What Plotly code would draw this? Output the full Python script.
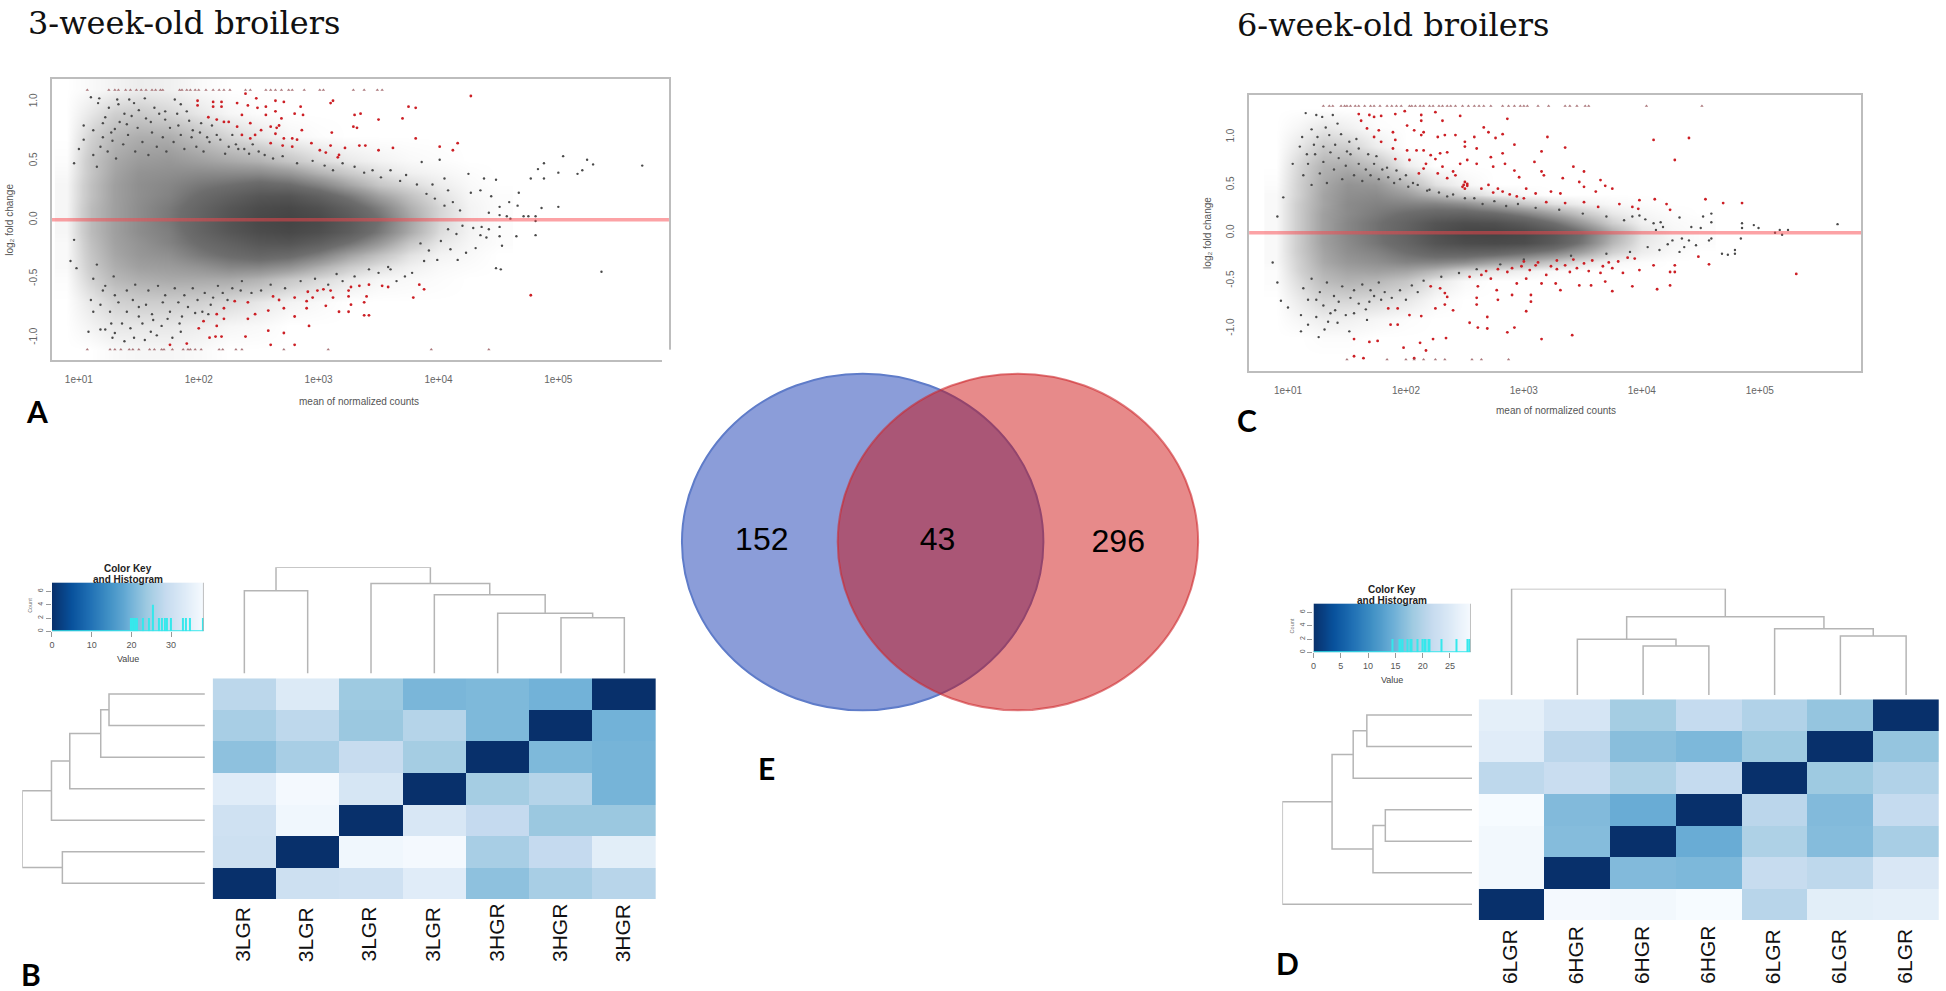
import plotly.graph_objects as go

W, H = 1946, 991

# ---------- MA plots: (log10 mean of normalized counts, log2 fold change)
density_x = [.9, 1.1, 1.3, 1.5, 1.75, 2, 2.25, 2.5, 2.75, 3, 3.25, 3.5, 3.75, 4, 4.25, 4.5]

a_density_y = [-1.1, -.9, -.7, -.5, -.4, -.3, -.2, -.1, 0, .1, .2, .3, .4, .5, .7, .9, 1.1]
a_density = [
    [0, 0, .02, .03, .03, .02, 0, 0, 0, 0, 0, 0, 0, 0, 0, 0],
    [0, .04, .08, .08, .08, .06, .03, .02, 0, 0, 0, 0, 0, 0, 0, 0],
    [0, .08, .15, .17, .17, .16, .12, .08, .04, .02, 0, 0, 0, 0, 0, 0],
    [.01, .15, .26, .3, .32, .32, .32, .28, .2, .13, .07, .03, .02, .01, 0, 0],
    [.02, .18, .3, .36, .38, .42, .48, .48, .42, .3, .18, .1, .05, .02, .01, 0],
    [.02, .2, .33, .4, .44, .54, .62, .68, .64, .52, .35, .22, .1, .04, .02, 0],
    [.02, .22, .35, .42, .5, .62, .72, .82, .84, .74, .58, .4, .2, .08, .03, .01],
    [.03, .24, .36, .45, .52, .68, .82, .92, .96, .9, .76, .55, .32, .12, .04, .01],
    [.03, .24, .36, .45, .55, .7, .85, .96, 1, .95, .8, .6, .35, .14, .04, .01],
    [.03, .24, .36, .45, .54, .68, .82, .92, .96, .88, .72, .52, .3, .14, .04, .01],
    [.03, .22, .36, .44, .5, .62, .72, .82, .84, .72, .55, .36, .22, .1, .03, .01],
    [.03, .22, .36, .44, .48, .55, .6, .66, .62, .5, .34, .2, .12, .06, .02, 0],
    [.02, .2, .34, .42, .44, .46, .46, .46, .4, .28, .18, .1, .05, .03, .01, 0],
    [.01, .2, .32, .38, .4, .36, .32, .28, .2, .12, .07, .04, .02, .01, 0, 0],
    [0, .15, .26, .3, .3, .22, .14, .08, .03, .01, 0, 0, 0, 0, 0, 0],
    [0, .08, .16, .18, .14, .08, .03, .01, 0, 0, 0, 0, 0, 0, 0, 0],
    [0, .02, .04, .06, .05, .02, 0, 0, 0, 0, 0, 0, 0, 0, 0, 0],
]

a_red = [(4.27, 1.05), (3.12, 1.01), (3.10, .99), (3.75, .96), (3.81, .95), (3.70, .86), (3.30, .89), (3.35, .90),
         (3.50, .85), (3.29, .79), (3.32, .78), (3.11, .74), (3.81, .69), (4.01, .62), (4.16, .65), (4.12, .59),
         (3.62, .61), (3.50, .59), (3.34, .63), (3.39, .63), (3.22, .61), (3.10, .63), (2.94, .65), (3.01, .59),
         (3.06, .57), (3.17, .55), (3.16, .53), (1.99, 1.01), (1.99, .97), (2.12, 1.0), (2.12, .96), (2.19, 1.0),
         (2.19, .96), (2.39, 1.07), (2.48, 1.03), (2.32, .99), (2.41, .97), (2.49, .95), (2.56, .96), (2.64, 1.01),
         (2.71, 1.0), (2.64, .92), (2.56, .89), (2.85, .96), (2.80, .9), (2.87, .89), (2.69, .86), (2.36, .89),
         (2.08, .87), (2.15, .85), (2.21, .83), (2.25, .83), (2.43, .82), (2.67, .8), (2.6, .79), (2.65, .78),
         (2.52, .76), (2.32, .79), (2.86, .76), (2.36, .72), (2.47, .72), (2.64, .73), (2.43, .69), (2.71, .69),
         (2.78, .69), (2.82, .68), (2.70, .63), (2.6, .65), (2.78, .62),
         (4.77, -.64), (3.79, -.66), (3.88, -.59), (3.84, -.55), (3.53, -.56), (3.58, -.57), (3.42, -.55),
         (3.34, -.56), (3.27, -.57), (3.25, -.6), (3.10, -.6), (3.04, -.59), (2.99, -.6), (2.91, -.61), (3.12, -.66),
         (3.25, -.65), (3.40, -.65), (3.38, -.7), (3.27, -.72), (2.95, -.66), (2.9, -.69), (2.8, -.66), (2.67, -.68),
         (2.62, -.65), (2.41, -.7), (2.3, -.69), (2.71, -.75), (2.9, -.75), (3.06, -.73), (3.17, -.78), (3.25, -.78),
         (3.38, -.81), (3.42, -.81), (2.58, -.77), (2.47, -.8), (2.41, -.84), (2.8, -.82), (2.21, -.75), (2.15, -.8),
         (2.21, -.84), (2.04, -.86), (2.0, -.92), (2.92, -.9), (2.15, -.9), (2.58, -.94), (2.71, -.96), (2.09, -1.0),
         (2.14, -.99), (2.19, -.99), (2.39, -.99), (1.76, -1.06), (1.9, -1.05), (2.6, -1.06), (2.8, -1.06)]

a_gray = [(5.70, .46), (5.36, -.44), (5.24, .51), (5.29, .47), (5.2, .42), (5.16, .39), (5.04, .54), (5.0, .4),
          (4.88, .48), (4.83, .43), (4.88, .35), (4.77, .35), (4.67, .23), (5.0, .11), (4.86, .1), (4.81, .03),
          (4.75, .03), (4.71, .03), (4.81, -.01), (4.81, -.13), (4.65, -.14), (4.6, .01), (4.57, .03), (4.51, .04),
          (4.42, .06), (4.66, .12), (4.59, .15), (4.51, .11), (4.44, .2), (4.48, .34), (4.38, .35), (4.35, .25),
          (4.27, .23), (4.25, .39), (4.51, -.06), (4.42, -.08), (4.36, -.06), (4.29, -.07), (4.35, -.13), (4.4, -.15),
          (4.51, -.14), (4.53, -.22), (4.48, -.41), (4.52, -.42), (4.31, -.24), (4.23, -.28), (4.16, -.34),
          (3.99, -.34), (3.88, -.35), (3.86, .49), (4.01, .51), (.93, -.35), (.96, -.17), (.98, -.41), (.96, .48),
          (1.0, .6), (1.04, .68), (1.04, .8), (1.1, 1.04), (1.16, .99), (1.17, 1.03), (1.22, .87), (1.12, .76),
          (1.25, .95), (1.32, 1.02), (1.33, .98), (1.42, 1.02), (1.46, .99), (1.38, .9), (1.5, .93), (1.55, 1.03),
          (1.63, .95), (1.72, .92), (1.8, 1.02), (1.85, .98), (1.9, .92), (1.72, .85), (1.83, .8), (1.6, .83),
          (1.4, .81), (1.3, .77), (1.2, .7), (1.18, .62), (1.28, .67), (2.02, .82), (1.95, .76), (2.07, .7),
          (2.15, .72), (2.25, .62), (2.33, .6), (2.42, .56), (2.55, .55), (3.2, .48), (3.3, .45), (3.45, .42),
          (3.6, .42), (3.73, .38), (3.82, .3), (3.95, .3), (4.05, .35),
          (1.08, -.95), (1.1, -.68), (1.12, -.78), (1.18, -.93), (1.22, -.93), (1.27, -.88), (1.3, -.96), (1.28, -1.0),
          (1.38, -1.03), (1.46, -1.0), (1.55, -1.02), (1.6, -.95), (1.65, -.98), (1.78, -1.0), (1.85, -.95),
          (1.4, -.78), (1.5, -.82), (1.62, -.85), (1.74, -.84), (1.86, -.82), (1.97, -.79), (2.03, -.78), (2.1, -.72),
          (1.2, -.6), (1.3, -.64), (1.45, -.68), (1.56, -.72), (1.7, -.7), (1.83, -.7), (2.2, -.62), (2.35, -.6),
          (3.5, -.45), (3.6, -.42), (3.72, -.48), (3.78, -.45), (3.65, -.52), (3.2, -.52), (3.08, -.55)]

a_gray_tails = [(1.12, .55), (1.15, .45), (1.2, .82), (1.24, .58), (1.27, .74), (1.31, .52), (1.34, .83), (1.37, .64),
                (1.41, .72), (1.44, .88), (1.47, .58), (1.49, .78), (1.53, .66), (1.56, .86), (1.58, .55), (1.61, .74),
                (1.65, .62), (1.67, .9), (1.7, .7), (1.73, .58), (1.76, .78), (1.79, .66), (1.82, .9), (1.85, .72),
                (1.88, .6), (1.92, .84), (1.94, .7), (1.98, .62), (2.01, .74), (2.04, .58), (2.09, .66), (2.11, .8),
                (2.18, .68), (2.22, .56), (2.28, .72), (2.31, .64), (2.38, .6), (2.45, .64), (2.5, .58), (2.62, .52),
                (2.7, .54), (2.82, .48), (2.95, .5), (3.05, .46), (3.12, .42), (3.38, .4), (3.52, .36), (3.68, .33),
                (3.9, .22), (3.97, .18), (4.08, .25), (4.12, .15), (4.18, .08), (4.05, .12),
                (1.12, -.5), (1.15, -.38), (1.18, -.72), (1.22, -.56), (1.26, -.78), (1.29, -.48), (1.33, -.7),
                (1.36, -.88), (1.4, -.6), (1.43, -.92), (1.47, -.55), (1.5, -.74), (1.53, -.88), (1.58, -.6),
                (1.61, -.8), (1.66, -.56), (1.69, -.9), (1.72, -.64), (1.76, -.78), (1.8, -.58), (1.84, -.88),
                (1.88, -.64), (1.91, -.74), (1.95, -.58), (1.99, -.68), (2.05, -.62), (2.08, -.8), (2.12, -.66),
                (2.16, -.56), (2.24, -.68), (2.28, -.58), (2.36, -.52), (2.44, -.62), (2.52, -.6), (2.6, -.55),
                (2.72, -.58), (2.85, -.52), (2.97, -.5), (3.15, -.46), (3.3, -.48), (3.42, -.42), (3.58, -.4),
                (3.85, -.2), (3.92, -.26), (4.02, -.18), (4.1, -.25), (4.15, -.12), (4.2, -.05), (4.08, -.08)]

a_cap_top = [1.07, 1.25, 1.30, 1.33, 1.39, 1.43, 1.48, 1.52, 1.56, 1.61, 1.64, 1.68, 1.70, 1.84, 1.86, 1.9, 1.93,
             1.97, 2.0, 2.06, 2.12, 2.17, 2.21, 2.26, 2.39, 2.43, 2.56, 2.6, 2.64, 2.69, 2.75, 2.78, 2.88, 3.01,
             3.04, 3.29, 3.38, 3.49, 3.53]
a_cap_bottom = [1.07, 1.26, 1.30, 1.35, 1.42, 1.45, 1.5, 1.59, 1.63, 1.69, 1.71, 1.78, 1.87, 1.91, 1.93, 1.97, 2.02,
                2.17, 2.2, 2.31, 2.36, 2.71, 3.08, 3.94, 4.42]

c_density_y = [-1.3, -1.1, -.9, -.7, -.5, -.4, -.3, -.2, -.1, 0, .1, .2, .3, .4, .5, .7, .9, 1.1, 1.3]
c_density = [
    [0, 0, 0, 0, 0, 0, 0, 0, 0, 0, 0, 0, 0, 0, 0, 0],
    [0, 0, .01, .01, 0, 0, 0, 0, 0, 0, 0, 0, 0, 0, 0, 0],
    [0, .03, .06, .05, .03, .01, 0, 0, 0, 0, 0, 0, 0, 0, 0, 0],
    [0, .07, .14, .14, .12, .08, .02, 0, 0, 0, 0, 0, 0, 0, 0, 0],
    [.01, .12, .24, .28, .26, .2, .08, .02, 0, 0, 0, 0, 0, 0, 0, 0],
    [.01, .15, .28, .34, .36, .34, .26, .14, .08, .05, .02, 0, 0, 0, 0, 0],
    [.02, .16, .32, .4, .44, .5, .5, .46, .36, .3, .2, .1, .03, .01, 0, 0],
    [.02, .18, .34, .44, .5, .6, .7, .72, .7, .62, .52, .36, .16, .06, .02, 0],
    [.02, .18, .36, .46, .56, .68, .84, .92, .94, .92, .78, .55, .26, .08, .03, .01],
    [.02, .18, .36, .48, .58, .72, .88, .98, 1, .96, .82, .6, .32, .1, .03, .01],
    [.02, .18, .36, .48, .58, .7, .84, .9, .88, .78, .6, .38, .16, .05, .02, .01],
    [.02, .18, .36, .46, .54, .62, .68, .7, .64, .52, .36, .2, .08, .03, .01, 0],
    [.02, .18, .34, .46, .5, .5, .5, .44, .32, .2, .1, .05, .02, .01, 0, 0],
    [.02, .16, .34, .44, .46, .38, .26, .14, .06, .02, 0, 0, 0, 0, 0, 0],
    [.01, .16, .32, .42, .4, .26, .1, .03, 0, 0, 0, 0, 0, 0, 0, 0],
    [0, .14, .28, .3, .22, .06, 0, 0, 0, 0, 0, 0, 0, 0, 0, 0],
    [0, .08, .18, .16, .06, 0, 0, 0, 0, 0, 0, 0, 0, 0, 0, 0],
    [0, .03, .08, .05, .01, 0, 0, 0, 0, 0, 0, 0, 0, 0, 0, 0],
    [0, 0, 0, 0, 0, 0, 0, 0, 0, 0, 0, 0, 0, 0, 0, 0],
]

c_red = [(4.1, .97), (4.4, .99), (4.28, .76), (3.2, 1.0), (2.86, 1.19), (2.66, 1.1), (2.7, 1.05), (2.82, 1.03),
         (2.76, .99), (2.92, .92), (3.35, .89), (3.15, .85), (1.62, 1.17), (1.6, 1.24), (1.69, 1.23), (1.73, 1.21),
         (1.79, 1.22), (1.91, 1.24), (1.99, 1.27), (2.13, 1.23), (2.25, 1.26), (2.46, 1.22), (2.31, 1.17), (1.67, 1.09),
         (1.77, 1.07), (1.89, 1.05), (2.01, 1.12), (2.13, 1.17), (2.07, 1.07), (2.15, 1.05), (2.13, 1.02), (2.27, 1.0),
         (2.33, 1.02), (2.42, 1.02), (2.5, .95), (2.58, 1.0), (2.5, .9), (2.6, .88), (1.79, .95), (1.91, .97),
         (1.73, 1.0), (1.89, .88), (2.09, .86), (2.01, .86), (2.15, .86), (2.21, .81), (2.29, .83), (2.35, .84),
         (1.91, .77), (2.03, .76), (2.17, .72), (2.25, .77), (2.31, .69), (2.15, .67), (2.11, .62), (2.27, .62),
         (2.4, .64), (2.46, .72), (2.52, .76), (2.6, .72), (2.72, .79), (2.82, .83), (2.74, .69), (2.84, .72),
         (2.92, .65), (2.96, .58), (3.09, .74), (3.15, .64), (3.17, .6), (3.33, .57), (3.42, .69), (3.51, .64),
         (3.47, .53), (3.51, .48), (3.65, .55), (3.69, .49), (3.75, .46), (3.61, .43), (2.42, .6), (2.35, .57),
         (2.48, .48), (2.52, .51), (2.5, .46), (2.64, .46), (2.7, .5), (2.78, .46), (2.82, .43), (2.94, .38),
         (3.02, .46), (3.1, .41), (3.23, .43), (3.31, .41), (3.19, .32), (3.35, .31), (3.51, .32), (3.63, .27),
         (3.81, .3), (3.92, .27), (3.98, .34), (3.97, .25), (4.11, .35), (4.21, .3), (4.24, .24), (4.54, .35),
         (4.69, .31), (4.85, .31), (2.52, .49), (2.49, .5), (2.5, .53), (2.74, .42), (2.88, .4), (3.0, .36),
         (5.31, -.43), (4.57, -.33), (4.48, -.25), (4.28, -.34), (4.28, -.41), (4.24, -.41), (4.24, -.55), (4.13, -.59),
         (4.1, -.34), (3.98, -.39), (3.92, -.56), (3.75, -.61), (3.84, -.42), (3.65, -.42), (3.69, -.51), (3.57, -.55),
         (3.47, -.55), (3.31, -.6), (3.27, -.53), (3.15, -.53), (3.02, -.48), (3.06, -.65), (3.06, -.72), (2.9, -.65),
         (2.78, -.7), (2.77, -.6), (2.61, -.56), (2.6, -.68), (2.6, -.75), (2.54, -.46), (2.64, -.44), (2.86, -.41),
         (2.98, -.35), (3.1, -.34), (3.23, -.35), (3.35, -.34), (3.51, -.32), (3.67, -.35), (3.8, -.3), (3.94, -.27),
         (3.39, -.41), (3.19, -.44), (2.94, -.53), (2.72, -.48), (2.21, -.56), (2.29, -.58), (2.33, -.63), (2.35, -.67),
         (1.85, -.79), (1.93, -.79), (1.87, -.96), (1.93, -.96), (2.03, -.86), (2.13, -.87), (2.25, -.79), (2.33, -.75),
         (2.4, -.81), (2.54, -.94), (2.61, -.99), (2.69, -1.0), (2.69, -.88), (2.92, -.99), (2.86, -1.04), (3.02, -.82),
         (3.41, -1.07), (3.15, -1.11), (2.34, -1.1), (2.23, -1.11), (1.56, -1.11), (1.69, -1.14), (1.76, -1.13),
         (2.12, -1.15), (1.98, -1.2), (2.17, -1.23), (1.56, -1.29), (1.64, -1.31), (2.07, -1.31),
         (3.0, -.3), (3.12, -.31), (3.28, -.29), (3.42, -.28), (3.58, -.29), (3.72, -.31), (3.88, -.26), (3.45, -.37),
         (3.28, -.38), (3.05, -.39), (2.9, -.37), (2.78, -.38), (2.68, -.4), (3.55, -.4), (3.75, -.37)]

c_gray = [(5.66, .09), (5.24, .03), (5.17, .03), (5.13, 0), (5.19, -.02), (4.99, .05), (4.95, .08), (4.85, .1),
          (4.85, .05), (4.84, -.06), (4.79, -.22), (4.73, -.23), (4.68, -.22), (4.79, -.18), (4.59, .11), (4.59, .2),
          (4.52, .17), (4.5, .05), (4.42, .06), (4.32, .16), (4.59, -.06), (4.57, -.08), (4.46, -.13), (4.4, -.08),
          (4.34, -.06), (4.36, -.15), (4.26, -.08), (4.32, -.2), (4.16, .11), (4.1, .1), (3.98, .18), (3.92, .17),
          (.87, -.31), (.91, -.52), (.94, -.71), (1.0, -.78), (.91, .17), (.96, .37), (1.04, .72), (1.12, 1.0),
          (1.15, 1.25), (1.24, 1.23), (1.29, 1.21), (1.38, 1.23), (1.32, 1.1), (1.42, 1.14), (1.1, .9), (1.26, -1.09),
          (1.11, -1.03), (1.31, -1.01), (1.52, -1.03), (1.17, -.96), (1.34, -.93), (1.42, -.94), (1.11, -.86),
          (1.24, -.7), (1.4, -.81), (1.56, -.84), (1.67, -.91), (1.79, -.7), (1.69, -.72), (1.2, 1.08), (1.25, 1.0),
          (1.35, 1.02), (1.45, 1.03), (1.52, .95), (1.58, .98), (1.16, .82), (1.22, .92), (1.3, .9), (1.4, .92),
          (1.5, .85), (1.6, .88), (1.68, .82), (1.75, .8), (1.84, .68), (1.92, .65), (2.0, .6), (2.06, .52),
          (2.2, .45), (2.35, .38), (2.5, .36), (2.65, .3), (2.85, .28)]

c_gray_tails = [(1.13, .6), (1.17, .72), (1.2, .5), (1.23, .82), (1.27, .62), (1.3, .74), (1.33, .52), (1.36, .84),
                (1.39, .66), (1.43, .78), (1.46, .56), (1.49, .7), (1.53, .82), (1.56, .6), (1.6, .72), (1.63, .54),
                (1.66, .66), (1.7, .6), (1.73, .72), (1.77, .56), (1.8, .66), (1.85, .58), (1.9, .52), (1.95, .56),
                (2.02, .48), (2.1, .5), (2.18, .44), (2.28, .42), (2.4, .4), (2.58, .36), (2.75, .33), (2.95, .3),
                (3.1, .26), (3.3, .24), (3.5, .2), (3.7, .17), (3.85, .13), (4.03, .14), (4.18, .06), (4.12, .03),
                (1.13, -.58), (1.17, -.7), (1.2, -.48), (1.24, -.88), (1.27, -.62), (1.3, -.76), (1.33, -.52),
                (1.36, -.84), (1.39, -.66), (1.43, -.72), (1.46, -.56), (1.49, -.86), (1.53, -.68), (1.56, -.6),
                (1.6, -.74), (1.63, -.54), (1.66, -.8), (1.7, -.6), (1.73, -.66), (1.77, -.52), (1.82, -.62),
                (1.88, -.68), (1.95, -.6), (2.0, -.7), (2.05, -.55), (2.1, -.62), (2.15, -.5), (2.3, -.46),
                (2.45, -.42), (2.6, -.38), (2.8, -.33), (3.0, -.28), (3.4, -.24), (3.7, -.22), (3.9, -.2),
                (4.05, -.15), (4.15, -.18), (4.22, -.12)]

c_cap_top = [1.3, 1.35, 1.38, 1.45, 1.48, 1.5, 1.53, 1.57, 1.6, 1.65, 1.7, 1.73, 1.78, 1.84, 1.88, 1.92, 1.96, 2.03,
             2.05, 2.08, 2.12, 2.15, 2.2, 2.23, 2.28, 2.31, 2.35, 2.38, 2.42, 2.48, 2.53, 2.58, 2.62, 2.66, 2.72, 2.82,
             2.87, 2.92, 2.97, 3.0, 3.03, 3.12, 3.21, 3.35, 3.39, 3.45, 3.52, 3.55, 4.04, 4.51]
c_cap_bottom = [1.5, 1.84, 2.0, 2.07, 2.15, 2.25, 2.33, 2.56, 2.64, 2.87]

ma_ticks_x = [1, 2, 3, 4, 5]
ma_ticklabels_x = ["1e+01", "1e+02", "1e+03", "1e+04", "1e+05"]
ma_ticks_y = [-1, -.5, 0, .5, 1]
ma_ticklabels_y = ["-1.0", "-0.5", "0.0", "0.5", "1.0"]

# ---------- sample distance heatmaps
b_labels = ["3LGR", "3LGR", "3LGR", "3LGR", "3HGR", "3HGR", "3HGR"]
b_matrix = [[27.4, 33.1, 23.9, 20.5, 20.9, 19.8, 0],
            [25.1, 27.7, 23.6, 26.6, 20.9, 0, 19.8],
            [22.4, 25.1, 28.9, 24.7, 0, 20.9, 20.1],
            [33.8, 37.6, 31.9, 0, 24.7, 26.6, 20.1],
            [30.4, 36.9, 0, 32.3, 28.5, 23.6, 23.6],
            [30, 0, 36.9, 37.6, 25.1, 28.5, 34.2],
            [0, 30, 30.4, 33.8, 22.4, 25.1, 27]]
b_max = 38.2
d_labels = ["6LGR", "6HGR", "6HGR", "6HGR", "6LGR", "6LGR", "6LGR"]
d_matrix = [[26.1, 23.8, 18.6, 21.5, 19.7, 17.4, 0],
            [25.5, 20.6, 16.5, 15.7, 18, 0, 17.4],
            [20.9, 22, 19.4, 21.5, 0, 18, 19.7],
            [28.7, 16, 14.2, 0, 20.6, 16, 21.5],
            [28.1, 16.2, 0, 14.2, 19.4, 16.2, 18.9],
            [28.1, 0, 16, 15.7, 21.8, 20.9, 24.4],
            [0, 28.4, 28.1, 28.7, 20.3, 25.8, 26.1]]
d_max = 28.8

# dendrogram merges: (child, child, height); ids 0-6 are leaves, 7+ earlier merges
b_top_merges = [(5, 6, 167), (4, 7, 181), (3, 8, 236), (2, 9, 270), (0, 1, 248), (11, 10, 319)]
b_left_merges = [(0, 1, 220), (7, 2, 239), (8, 3, 310), (9, 4, 352), (5, 6, 327), (10, 11, 419)]
d_top_merges = [(2, 3, 147), (1, 7, 167), (5, 6, 177), (4, 9, 199), (8, 10, 235), (0, 11, 319)]
d_left_merges = [(0, 1, 239), (7, 2, 270), (3, 4, 197), (9, 5, 225), (8, 10, 318), (11, 6, 431)]

# colour keys
b_key_levels = list(range(0, 39))
b_hist_x = [20, 20.5, 21, 21.3, 23, 24.5, 25.5, 27, 27.7, 28.5, 29, 30, 33, 33.7, 34.7, 38]
b_hist_count = [2, 2, 2, 2, 2, 2, 4, 2, 2, 2, 2, 2, 2, 2, 2, 2]
b_key_ticks = [0, 10, 20, 30]
d_key_levels = list(range(0, 30))
d_hist_x = [14.5, 15.7, 16, 16.3, 17.3, 17.7, 18, 19, 20, 20.3, 20.6, 21, 21.3, 23.5, 26.2, 28.3, 28.6]
d_hist_count = [2, 2, 2, 2, 2, 2, 2, 2, 2, 2, 2, 2, 2, 2, 2, 2, 2]
d_key_ticks = [0, 5, 10, 15, 20, 25]
count_ticks = [0, 2, 4, 6]

# venn
venn_counts = ["152", "43", "296"]

# ---------- layout helpers
fig = go.Figure()
layout = dict(width=W, height=H, margin=dict(l=0, r=0, t=0, b=0), paper_bgcolor="white", plot_bgcolor="white",
              showlegend=False)
annotations, shapes = [], []
axis_no = [0]
SANS = "Liberation Sans"


def new_axes(x0, x1, y0, y1, xrange, yrange, xopt=None, yopt=None):
    axis_no[0] += 1
    n = axis_no[0]
    base = dict(showgrid=False, zeroline=False, showticklabels=False, ticks="", showline=False)
    xa = dict(base, domain=[x0 / W, x1 / W], range=xrange, anchor=f"y{n}", **(xopt or {}))
    ya = dict(base, domain=[1 - y1 / H, 1 - y0 / H], range=yrange, anchor=f"x{n}", **(yopt or {}))
    layout[f"xaxis{n}"] = xa
    layout[f"yaxis{n}"] = ya
    return f"x{n}", f"y{n}"


def text(x, y, s, size, color="#000", family=SANS, angle=0, xanchor="center", yanchor="middle", bold=False):
    annotations.append(dict(x=x / W, y=1 - y / H, xref="paper", yref="paper", text=f"<b>{s}</b>" if bold else s,
                            showarrow=False, textangle=angle, xanchor=xanchor, yanchor=yanchor,
                            font=dict(size=size, color=color, family=family)))


def ma_panel(box, xr, yr, dens_y, dens, gray, red, cap_top, cap_bottom, cap_level):
    tick = dict(showticklabels=True, ticks="outside", tickcolor="rgba(0,0,0,0)", ticklen=9,
                tickfont=dict(size=10, color="#666", family=SANS), showline=True, linecolor="#bdbdbd", linewidth=2,
                mirror=True)
    xa, ya = new_axes(*box, xr, yr, dict(tick, tickvals=ma_ticks_x, ticktext=ma_ticklabels_x),
                      dict(tick, tickvals=ma_ticks_y, ticktext=ma_ticklabels_y, tickangle=-90))
    fig.add_trace(go.Heatmap(x=density_x, y=dens_y, z=dens, xaxis=xa, yaxis=ya, zmin=0, zmax=1, zsmooth="best",
                             showscale=False, hoverinfo="skip",
                             colorscale=[[0, "#ffffff"], [.15, "#d2d2d2"], [.35, "#a2a2a2"], [.6, "#6e6e6e"],
                                         [1, "#444444"]]))
    fig.add_trace(go.Scatter(x=[p[0] for p in gray], y=[p[1] for p in gray], mode="markers", xaxis=xa, yaxis=ya,
                             marker=dict(size=2.4, color="#4a4a4a")))
    fig.add_trace(go.Scatter(x=[p[0] for p in red], y=[p[1] for p in red], mode="markers", xaxis=xa, yaxis=ya,
                             marker=dict(size=2.8, color="#cc1f25")))
    fig.add_trace(go.Scatter(x=cap_top + cap_bottom,
                             y=[cap_level] * len(cap_top) + [-cap_level] * len(cap_bottom), mode="markers",
                             xaxis=xa, yaxis=ya, marker=dict(size=3, color="rgba(150,85,90,.8)", symbol="triangle-up")))
    fig.add_trace(go.Scatter(x=xr, y=[0, 0], mode="lines", xaxis=xa, yaxis=ya,
                             line=dict(color="rgba(250,70,75,.5)", width=3.5)))


def dendrogram(merges, box, height_range, orientation):
    pos = {i: (float(i), 0.0) for i in range(7)}
    xs, ys = [], []
    for k, (a, b, h) in enumerate(merges):
        (pa, ha), (pb, hb) = pos[a], pos[b]
        xs += [pa, pa, pb, pb, None]
        ys += [ha, h, h, hb, None]
        pos[7 + k] = ((pa + pb) / 2, h)
    if orientation == "top":
        xa, ya = new_axes(*box, [-.5, 6.5], height_range)
        px, py = xs, ys
    else:
        xa, ya = new_axes(*box, height_range, [6.5, -.5])
        px, py = ys, xs
    fig.add_trace(go.Scatter(x=px, y=py, mode="lines", xaxis=xa, yaxis=ya, line=dict(color="#b5b5b5", width=1.5)))


def heat_panel(box, matrix, zmax, labels, label_bottom):
    xa, ya = new_axes(*box, [-.5, 6.5], [6.5, -.5])
    fig.add_trace(go.Heatmap(z=matrix, xaxis=xa, yaxis=ya, zmin=0, zmax=zmax, colorscale="Blues_r", showscale=False,
                             hoverinfo="skip"))
    x0, x1 = box[0], box[1]
    for i, lab in enumerate(labels):
        text(x0 + (x1 - x0) * (i + .5) / 7 - 2, label_bottom, lab, 21, "#111", angle=-90, yanchor="bottom")


def color_key(box, levels, zmax, hist_x, hist_count, ticks):
    tick = dict(showticklabels=True, ticks="outside", tickcolor="#999", ticklen=5,
                tickfont=dict(size=9, color="#555", family=SANS))
    xa, ya = new_axes(*box, [0, zmax], [0, 7.35], dict(tick, tickvals=ticks),
                      dict(tick, tickvals=count_ticks, tickangle=-90, tickfont=dict(size=7, color="#555", family=SANS)))
    fig.add_trace(go.Heatmap(x=levels, y=[0, 7.35], z=[levels, levels], xaxis=xa, yaxis=ya, zmin=0, zmax=zmax,
                             zsmooth="best", colorscale="Blues_r", showscale=False, hoverinfo="skip"))
    fig.add_trace(go.Bar(x=hist_x, y=hist_count, width=.28 * zmax / 38, xaxis=xa, yaxis=ya,
                         marker=dict(color="#35e8ec", line=dict(width=0))))
    fig.add_trace(go.Scatter(x=[0, zmax], y=[0.05, 0.05], mode="lines", xaxis=xa, yaxis=ya,
                             line=dict(color="#35e8ec", width=1.5)))
    fig.add_trace(go.Scatter(x=[zmax, zmax], y=[0, 7.35], mode="lines", xaxis=xa, yaxis=ya,
                             line=dict(color="#aaaaaa", width=1.5)))
    cx = (box[0] + box[1]) / 2
    text(cx, box[2] - 14, "Color Key", 10, "#222", bold=True)
    text(cx, box[2] - 3, "and Histogram", 10, "#222", bold=True)
    text(cx, box[3] + 28, "Value", 9, "#444")
    text(box[0] - 22, (box[2] + box[3]) / 2 - 2, "Count", 5.5, "#777", angle=-90)


# ---------- panels
ma_panel((49, 667, 79, 360), [.775, 5.923], [-1.186, 1.195], a_density_y, a_density, a_gray + a_gray_tails, a_red,
         a_cap_top, a_cap_bottom, 1.1)
ma_panel((1248, 1861, 95, 371), [.67, 5.86], [-1.44, 1.44], c_density_y, c_density, c_gray + c_gray_tails, c_red,
         c_cap_top, c_cap_bottom, 1.325)

heat_panel((210, 654, 679, 900), b_matrix, b_max, b_labels, 965)
heat_panel((1478, 1939, 700, 921), d_matrix, d_max, d_labels, 987)
dendrogram(b_top_merges, (210, 654, 567.7, 674.3), [0, 319], "top")
dendrogram(b_left_merges, (19.3, 202.2, 679, 900), [419, 0], "left")
dendrogram(d_top_merges, (1478, 1939, 589.3, 695.7), [0, 319], "top")
dendrogram(d_left_merges, (1281.3, 1471.3, 700, 921), [431, 0], "left")
color_key((49, 201, 583, 632), b_key_levels, b_max, b_hist_x, b_hist_count, b_key_ticks)
color_key((1312.5, 1470, 604, 653), d_key_levels, d_max, d_hist_x, d_hist_count, d_key_ticks)

# venn, drawn in its own pixel-sized axes
vx, vy = new_axes(660, 1220, 350, 730, [660, 1220], [730, 350])
fig.add_trace(go.Scatter(x=[760, 936, 1117], y=[543, 543, 545], mode="text", text=venn_counts, xaxis=vx, yaxis=vy,
                         textfont=dict(size=32, color="#000", family=SANS)))
shapes.append(dict(type="circle", xref=vx, yref=vy, x0=680, x1=1042, y0=374, y1=711, layer="below",
                   fillcolor="rgb(139,157,217)", line=dict(color="#5f7cc9", width=2)))
shapes.append(dict(type="circle", xref=vx, yref=vy, x0=836, x1=1197, y0=374, y1=711, layer="below",
                   fillcolor="rgba(204,8,8,.474)", line=dict(color="rgba(205,40,45,.6)", width=2)))

# ---------- free text
SERIF = "DejaVu Serif"
text(23, 23, "3-week-old broilers", 32, "#111", SERIF, xanchor="left")
text(1234, 25, "6-week-old broilers", 32, "#111", SERIF, xanchor="left")
text(7, 220, "log₂ fold change", 10, "#555", angle=-90)
text(1207, 233, "log₂ fold change", 10, "#555", angle=-90)
text(357, 401.5, "mean of normalized counts", 10, "#555")
text(1555, 411, "mean of normalized counts", 10, "#555")
for (lx, ly, letter) in [(34, 411, "A"), (28, 975, "B"), (1246, 420, "C"), (1286, 964, "D"), (765, 769, "E")]:
    text(lx, ly, letter, 30, "#000", "Lato", bold=True)

layout["annotations"] = annotations
layout["shapes"] = shapes
fig.update_layout(**layout)
fig.write_html("out.html", post_script="document.body.style.margin='0';", config=dict(displayModeBar=False))
